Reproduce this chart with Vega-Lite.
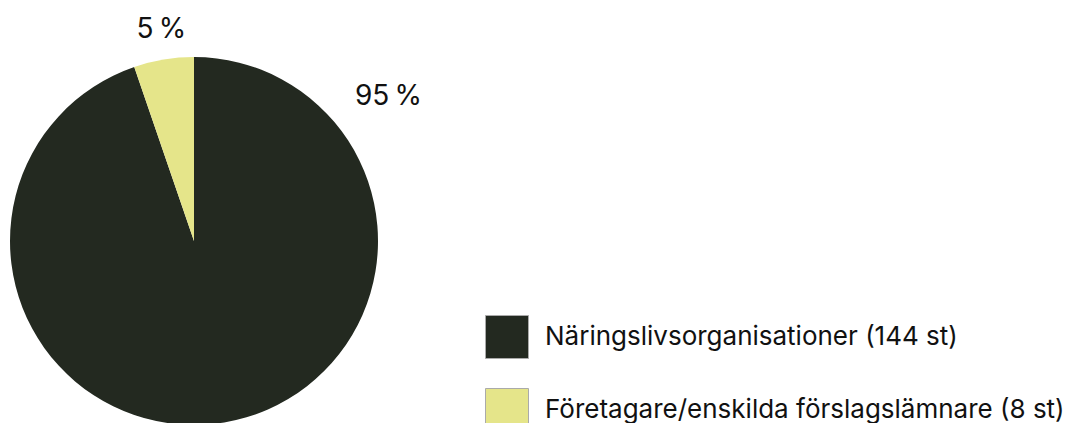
{
  "$schema": "https://vega.github.io/schema/vega-lite/v6.json",
  "width": 388,
  "height": 482,
  "padding": 0,
  "background": "white",
  "config": {"view": {"stroke": null}, "font": "Inter"},
  "data": {
    "values": [
      {"kategori": "Näringslivsorganisationer (144 st)", "antal": 144, "andel": "95\u2009%", "ordning": 1},
      {"kategori": "Företagare/enskilda förslagslämnare (8 st)", "antal": 8, "andel": "5\u2009%", "ordning": 2}
    ]
  },
  "encoding": {
    "theta": {"field": "antal", "type": "quantitative", "stack": true},
    "order": {"field": "ordning", "type": "quantitative"}
  },
  "layer": [
    {
      "mark": {"type": "arc", "radius": 184},
      "encoding": {
        "color": {
          "field": "kategori",
          "type": "nominal",
          "sort": ["Näringslivsorganisationer (144 st)", "Företagare/enskilda förslagslämnare (8 st)"],
          "scale": {"range": ["#232920", "#e5e58a"]},
          "legend": {
            "title": null,
            "orient": "none",
            "legendX": 485,
            "legendY": 315,
            "symbolType": "square",
            "symbolSize": 1849,
            "symbolStrokeColor": "#aaaaaa",
            "symbolStrokeWidth": 1,
            "symbolOpacity": 1,
            "labelFont": "Inter",
            "labelFontSize": 26,
            "labelColor": "#111111",
            "labelOffset": 16,
            "rowPadding": 25,
            "labelLimit": 700
          }
        }
      }
    },
    {
      "transform": [{"filter": "datum.ordning == 2"}],
      "mark": {"type": "text", "fontSize": 28, "font": "Inter", "color": "#111111", "theta": 6.13, "radius": 214, "align": "center", "baseline": "middle"},
      "encoding": {"text": {"field": "andel"}, "theta": null, "order": null}
    },
    {
      "transform": [{"filter": "datum.ordning == 1"}],
      "mark": {"type": "text", "fontSize": 28, "font": "Inter", "color": "#111111", "theta": 0.933, "radius": 242, "align": "center", "baseline": "middle"},
      "encoding": {"text": {"field": "andel"}, "theta": null, "order": null}
    }
  ]
}
